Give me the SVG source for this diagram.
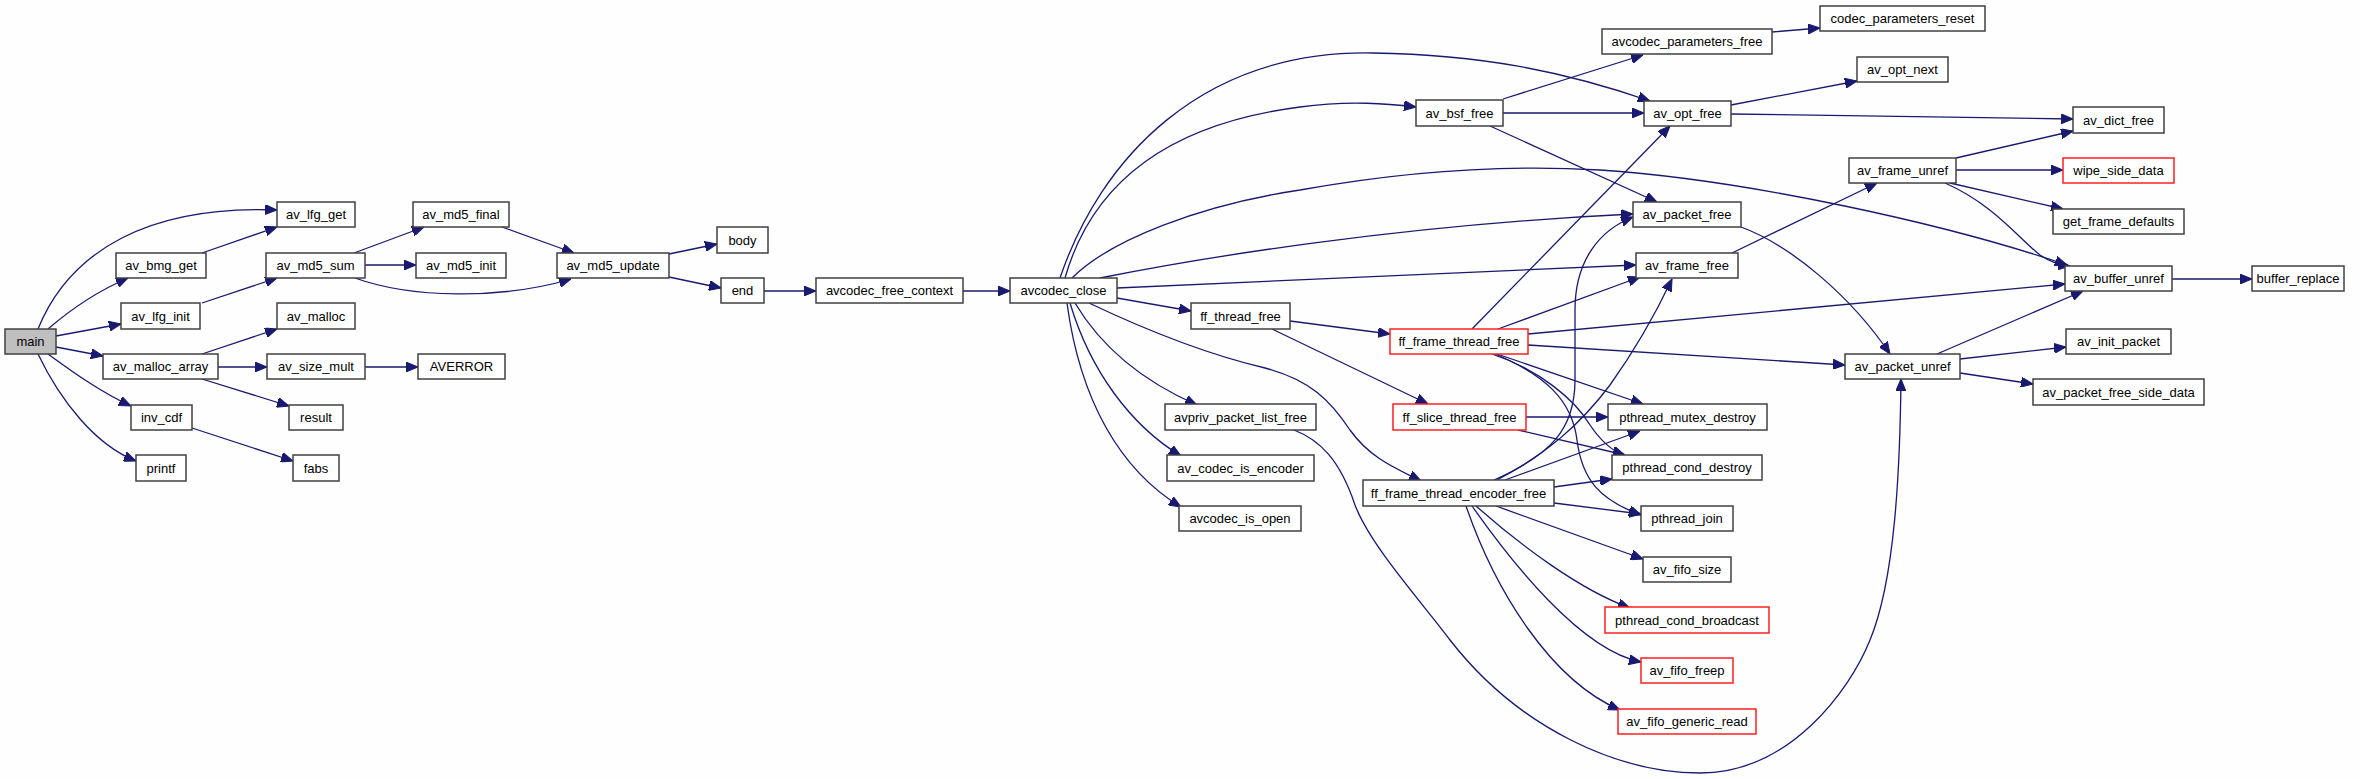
<svg xmlns="http://www.w3.org/2000/svg" width="2360" height="779" viewBox="0 0 2360 779">
<style>
.node rect{fill:#ffffff;stroke:#404040;stroke-width:1.5}
.node.red rect{stroke:#ff2020}
.node.root rect{fill:#bfbfbf}
.node text{font-family:"Liberation Sans",Arial,sans-serif;font-size:13px;fill:#000;text-anchor:middle}
#edges path{fill:none;stroke:#191970;stroke-width:1.3;marker-end:url(#arr)}
</style>
<defs>
<marker id="arr" markerWidth="12" markerHeight="10" refX="12" refY="5" orient="auto" markerUnits="userSpaceOnUse">
<path d="M0,0 L12,5 L0,10 z" fill="#191970" stroke="#191970" stroke-width="1"/>
</marker>
</defs>
<rect width="2360" height="779" fill="#fdfefd"/>
<g id="edges">
<path d="M38,329 C70,250 150,205 277,210"/>
<path d="M48,329 C70,310 100,290 128,278"/>
<path d="M56,336 L121,324"/>
<path d="M56,347 L103,356"/>
<path d="M48,354 C70,370 100,392 131,406"/>
<path d="M38,354 C60,400 95,445 136,461"/>
<path d="M202,253 L277,227"/>
<path d="M202,303 L277,278"/>
<path d="M354,253 L424,227"/>
<path d="M365,265 L416,265"/>
<path d="M355,278 C410,298 500,300 571,279"/>
<path d="M502,227 L574,253"/>
<path d="M202,354 L277,329"/>
<path d="M218,367 L267,367"/>
<path d="M202,379 L289,406"/>
<path d="M365,367 L418,367"/>
<path d="M192,428 L293,461"/>
<path d="M669,254 L717,244"/>
<path d="M669,277 L721,288"/>
<path d="M764,291 L816,291"/>
<path d="M963,291 L1010,291"/>
<path d="M1060,278 C1100,160 1200,50 1373,53 C1480,55 1560,70 1650,101"/>
<path d="M1065,278 C1090,190 1160,125 1300,107 C1350,100 1390,104 1416,107"/>
<path d="M1072,278 C1110,240 1200,205 1300,190 C1400,172 1500,164 1600,170 C1750,180 1950,225 2067,265"/>
<path d="M1100,278 C1200,258 1400,225 1633,214"/>
<path d="M1117,288 L1636,265"/>
<path d="M1117,298 L1191,311"/>
<path d="M1075,303 C1100,345 1140,380 1197,405"/>
<path d="M1070,303 C1090,370 1130,425 1181,456"/>
<path d="M1067,303 C1080,400 1120,470 1181,507"/>
<path d="M1089,303 C1150,332 1210,355 1265,368 C1310,380 1330,400 1350,430 C1370,458 1395,468 1421,481"/>
<path d="M1503,99 L1643,55"/>
<path d="M1503,113 L1644,113"/>
<path d="M1490,126 L1657,202"/>
<path d="M1772,32 L1820,28"/>
<path d="M1731,105 L1857,81"/>
<path d="M1731,114 L2073,119"/>
<path d="M1741,227 C1790,245 1850,295 1890,354"/>
<path d="M1732,253 L1877,183"/>
<path d="M1956,158 L2073,131"/>
<path d="M1956,170 L2063,170"/>
<path d="M1950,183 L2063,209"/>
<path d="M1945,183 C1995,205 2020,240 2040,255 C2050,262 2060,265 2070,266"/>
<path d="M1937,354 L2083,291"/>
<path d="M1960,359 L2066,347"/>
<path d="M1960,373 L2033,384"/>
<path d="M2172,279 L2252,279"/>
<path d="M1290,321 L1390,334"/>
<path d="M1272,329 L1428,404"/>
<path d="M1472,329 L1670,126"/>
<path d="M1498,329 L1640,277"/>
<path d="M1528,334 L2065,284"/>
<path d="M1528,345 L1845,365"/>
<path d="M1497,354 L1643,404"/>
<path d="M1492,354 C1540,370 1575,400 1590,425 C1600,440 1610,450 1625,456"/>
<path d="M1495,354 C1545,375 1572,400 1577,440 C1582,480 1600,500 1641,515"/>
<path d="M1526,417 L1608,417"/>
<path d="M1518,430 L1625,455"/>
<path d="M1494,480 C1550,455 1575,430 1575,380 L1575,310 C1575,260 1600,230 1633,217"/>
<path d="M1497,480 C1545,455 1580,425 1610,385 C1635,350 1655,315 1672,279"/>
<path d="M1505,480 L1640,431"/>
<path d="M1554,487 L1612,479"/>
<path d="M1554,503 L1641,514"/>
<path d="M1496,506 L1643,559"/>
<path d="M1476,506 C1520,545 1580,590 1630,608"/>
<path d="M1472,506 C1510,560 1580,650 1641,662"/>
<path d="M1466,506 C1495,590 1550,680 1620,710"/>
<path d="M1294,430 C1320,440 1340,460 1355,505 C1370,545 1420,600 1450,640 C1520,730 1620,773 1700,773 C1790,773 1850,690 1870,640 C1895,580 1900,470 1901,379"/>
</g>
<g id="n-main" class="node root"><rect x="5" y="329" width="51" height="25"/><text x="30.5" y="346">main</text></g>
<g id="n-av_lfg_get" class="node"><rect x="277" y="202" width="78" height="25"/><text x="316" y="219">av_lfg_get</text></g>
<g id="n-av_bmg_get" class="node"><rect x="116" y="253" width="90" height="25"/><text x="161" y="270">av_bmg_get</text></g>
<g id="n-av_lfg_init" class="node"><rect x="121" y="303" width="79" height="26"/><text x="160.5" y="321">av_lfg_init</text></g>
<g id="n-av_malloc_array" class="node"><rect x="103" y="354" width="115" height="25"/><text x="160.5" y="371">av_malloc_array</text></g>
<g id="n-inv_cdf" class="node"><rect x="131" y="405" width="61" height="25"/><text x="161.5" y="422">inv_cdf</text></g>
<g id="n-printf" class="node"><rect x="136" y="455" width="50" height="26"/><text x="161" y="473">printf</text></g>
<g id="n-av_md5_sum" class="node"><rect x="266" y="253" width="99" height="25"/><text x="315.5" y="270">av_md5_sum</text></g>
<g id="n-av_malloc" class="node"><rect x="277" y="303" width="78" height="26"/><text x="316" y="321">av_malloc</text></g>
<g id="n-av_size_mult" class="node"><rect x="267" y="354" width="98" height="25"/><text x="316" y="371">av_size_mult</text></g>
<g id="n-result" class="node"><rect x="289" y="405" width="54" height="25"/><text x="316" y="422">result</text></g>
<g id="n-fabs" class="node"><rect x="293" y="455" width="46" height="26"/><text x="316" y="473">fabs</text></g>
<g id="n-av_md5_final" class="node"><rect x="413" y="202" width="96" height="25"/><text x="461" y="219">av_md5_final</text></g>
<g id="n-av_md5_init" class="node"><rect x="416" y="253" width="90" height="25"/><text x="461" y="270">av_md5_init</text></g>
<g id="n-AVERROR" class="node"><rect x="418" y="354" width="87" height="25"/><text x="461.5" y="371">AVERROR</text></g>
<g id="n-av_md5_update" class="node"><rect x="557" y="253" width="112" height="25"/><text x="613" y="270">av_md5_update</text></g>
<g id="n-body" class="node"><rect x="717" y="227" width="51" height="26"/><text x="742.5" y="245">body</text></g>
<g id="n-end" class="node"><rect x="721" y="278" width="43" height="25"/><text x="742.5" y="295">end</text></g>
<g id="n-avcodec_free_context" class="node"><rect x="816" y="278" width="147" height="25"/><text x="889.5" y="295">avcodec_free_context</text></g>
<g id="n-avcodec_close" class="node"><rect x="1010" y="278" width="107" height="25"/><text x="1063.5" y="295">avcodec_close</text></g>
<g id="n-av_bsf_free" class="node"><rect x="1416" y="100" width="87" height="26"/><text x="1459.5" y="118">av_bsf_free</text></g>
<g id="n-avcodec_parameters_free" class="node"><rect x="1602" y="29" width="170" height="25"/><text x="1687" y="46">avcodec_parameters_free</text></g>
<g id="n-codec_parameters_reset" class="node"><rect x="1820" y="6" width="165" height="25"/><text x="1902.5" y="23">codec_parameters_reset</text></g>
<g id="n-av_opt_next" class="node"><rect x="1857" y="57" width="91" height="25"/><text x="1902.5" y="74">av_opt_next</text></g>
<g id="n-av_opt_free" class="node"><rect x="1644" y="101" width="87" height="25"/><text x="1687.5" y="118">av_opt_free</text></g>
<g id="n-av_dict_free" class="node"><rect x="2073" y="107" width="91" height="26"/><text x="2118.5" y="125">av_dict_free</text></g>
<g id="n-av_frame_unref" class="node"><rect x="1849" y="158" width="107" height="25"/><text x="1902.5" y="175">av_frame_unref</text></g>
<g id="n-wipe_side_data" class="node red"><rect x="2063" y="158" width="111" height="25"/><text x="2118.5" y="175">wipe_side_data</text></g>
<g id="n-get_frame_defaults" class="node"><rect x="2053" y="209" width="131" height="25"/><text x="2118.5" y="226">get_frame_defaults</text></g>
<g id="n-av_packet_free" class="node"><rect x="1633" y="202" width="108" height="25"/><text x="1687" y="219">av_packet_free</text></g>
<g id="n-av_frame_free" class="node"><rect x="1636" y="253" width="102" height="25"/><text x="1687" y="270">av_frame_free</text></g>
<g id="n-av_buffer_unref" class="node"><rect x="2065" y="266" width="107" height="25"/><text x="2118.5" y="283">av_buffer_unref</text></g>
<g id="n-buffer_replace" class="node"><rect x="2252" y="266" width="92" height="25"/><text x="2298" y="283">buffer_replace</text></g>
<g id="n-av_init_packet" class="node"><rect x="2066" y="329" width="105" height="25"/><text x="2118.5" y="346">av_init_packet</text></g>
<g id="n-av_packet_unref" class="node"><rect x="1845" y="354" width="115" height="25"/><text x="1902.5" y="371">av_packet_unref</text></g>
<g id="n-av_packet_free_side_data" class="node"><rect x="2033" y="379" width="171" height="26"/><text x="2118.5" y="397">av_packet_free_side_data</text></g>
<g id="n-ff_thread_free" class="node"><rect x="1191" y="303" width="99" height="26"/><text x="1240.5" y="321">ff_thread_free</text></g>
<g id="n-ff_frame_thread_free" class="node red"><rect x="1390" y="329" width="138" height="25"/><text x="1459" y="346">ff_frame_thread_free</text></g>
<g id="n-ff_slice_thread_free" class="node red"><rect x="1393" y="404" width="133" height="26"/><text x="1459.5" y="422">ff_slice_thread_free</text></g>
<g id="n-avpriv_packet_list_free" class="node"><rect x="1165" y="404" width="151" height="26"/><text x="1240.5" y="422">avpriv_packet_list_free</text></g>
<g id="n-av_codec_is_encoder" class="node"><rect x="1167" y="455" width="147" height="26"/><text x="1240.5" y="473">av_codec_is_encoder</text></g>
<g id="n-avcodec_is_open" class="node"><rect x="1179" y="506" width="122" height="25"/><text x="1240" y="523">avcodec_is_open</text></g>
<g id="n-ff_frame_thread_encoder_free" class="node"><rect x="1363" y="480" width="191" height="26"/><text x="1458.5" y="498">ff_frame_thread_encoder_free</text></g>
<g id="n-pthread_mutex_destroy" class="node"><rect x="1608" y="404" width="159" height="26"/><text x="1687.5" y="422">pthread_mutex_destroy</text></g>
<g id="n-pthread_cond_destroy" class="node"><rect x="1612" y="455" width="150" height="25"/><text x="1687" y="472">pthread_cond_destroy</text></g>
<g id="n-pthread_join" class="node"><rect x="1641" y="506" width="92" height="25"/><text x="1687" y="523">pthread_join</text></g>
<g id="n-av_fifo_size" class="node"><rect x="1643" y="557" width="88" height="25"/><text x="1687" y="574">av_fifo_size</text></g>
<g id="n-pthread_cond_broadcast" class="node red"><rect x="1605" y="607" width="164" height="26"/><text x="1687" y="625">pthread_cond_broadcast</text></g>
<g id="n-av_fifo_freep" class="node red"><rect x="1641" y="658" width="92" height="25"/><text x="1687" y="675">av_fifo_freep</text></g>
<g id="n-av_fifo_generic_read" class="node red"><rect x="1618" y="709" width="138" height="25"/><text x="1687" y="726">av_fifo_generic_read</text></g>
</svg>
